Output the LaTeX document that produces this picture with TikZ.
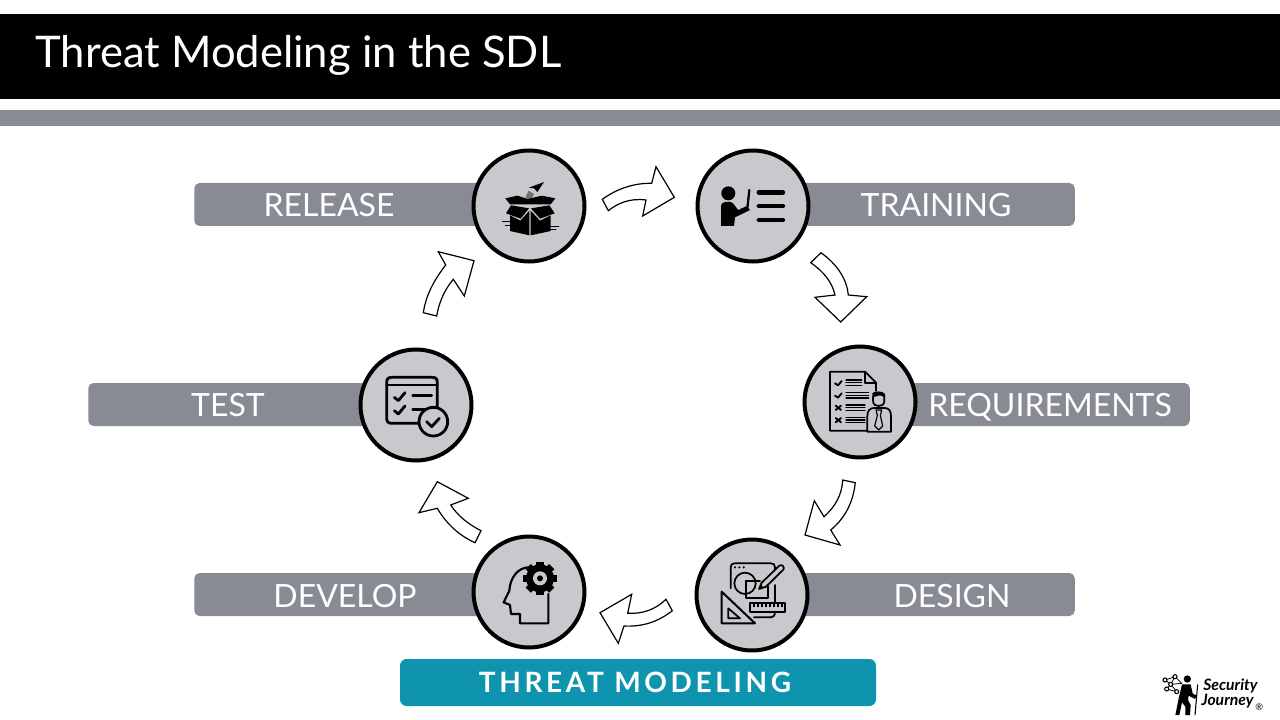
\documentclass[tikz,border=0pt]{standalone}
\usepackage{fontspec}
\setmainfont{Lato}
\newfontfamily\spacedfont[LetterSpace=13]{Lato}
\usepackage{xcolor}
\usetikzlibrary{positioning}
\definecolor{bargrey}{HTML}{888A94}
\definecolor{circlegrey}{HTML}{C8C9CC}
\definecolor{threatteal}{HTML}{0E94AE}
\tikzset{
  barbox/.style={fill=bargrey, rounded corners=4pt, minimum height=32.25pt, inner sep=0pt},
  barlabel/.style={text=white, font=\fontsize{24}{26}\selectfont, text height=17pt, text depth=0pt, inner sep=0pt},
  stepcircle/.style={draw=black, line width=3pt, fill=circlegrey, circle, minimum size=83.25pt, inner sep=0pt},
  blockarrow/.style={draw=black, line width=0.9pt, line join=miter, fill=white},
  iconline/.style={draw=black, line width=1.3pt, line cap=round, line join=round},
  iconthick/.style={draw=black, line width=2.1pt, line cap=round, line join=round}
}

\begin{document}
\begin{tikzpicture}[x=0.75pt, y=-0.75pt]
  \useasboundingbox (0,0) rectangle (1280,720);

  % Header
  \fill[black] (0,14) rectangle (1280,99);
  \fill[bargrey] (0,110) rectangle (1280,126);
  \node[anchor=west, text=white, inner sep=0pt, font=\fontsize{32.7}{36}\selectfont] (title) at (35,55) {Threat Modeling in the SDL};

  % Bars behind the circles
  \node[barbox, anchor=west, minimum width=251pt] (releasebar) at (194,204.5) {};
  \node[barbox, anchor=east, minimum width=241.5pt] (trainingbar) at (1075,204.5) {};
  \node[barbox, anchor=west, minimum width=246pt] (testbar) at (88,404.5) {};
  \node[barbox, anchor=east, minimum width=247.5pt] (requirementsbar) at (1190,404.5) {};
  \node[barbox, anchor=west, minimum width=251pt] (developbar) at (194,594.5) {};
  \node[barbox, anchor=east, minimum width=242pt] (designbar) at (1075,594.5) {};

  % Bar labels
  \node[barlabel] (releaselabel) at (329,205) {RELEASE};
  \node[barlabel] (traininglabel) at (936,205) {TRAINING};
  \node[barlabel] (testlabel) at (228,405) {TEST};
  \node[barlabel] (requirementslabel) at (1050,405) {REQUIREMENTS};
  \node[barlabel] (developlabel) at (345,596) {DEVELOP};
  \node[barlabel] (designlabel) at (952,596) {DESIGN};

  % Circles
  \node[stepcircle] (release) at (529,206) {};
  \node[stepcircle] (training) at (753,206) {};
  \node[stepcircle] (requirements) at (860,402) {};
  \node[stepcircle] (design) at (752,595) {};
  \node[stepcircle] (develop) at (529,592) {};
  \node[stepcircle] (test) at (416,405) {};

  % Threat modeling box
  \node[fill=threatteal, rounded corners=5pt, minimum width=357pt, minimum height=35.25pt, inner sep=0pt, text=white, font=\spacedfont\bfseries\fontsize{21}{24}\selectfont] (threat) at (638,682.5) {\hspace*{-4.5pt}THREAT MODELING};

  % Curved block arrows
  \draw[blockarrow] (602.3,199.3) .. controls (618,188) and (635,183) .. (651.7,183.3) -- (656,166.7) -- (674.3,197.3) -- (642.7,216) -- (646,200) .. controls (630,198) and (618,203) .. (608.3,210.7) -- cycle;
  \draw[blockarrow] (821,252.7) .. controls (838,265) and (847,280) .. (848.3,295) -- (866.7,296.7) -- (840.7,322) -- (815,297.3) -- (835,295) .. controls (832,282) and (824,272) .. (810.7,262.7) -- cycle;
  \draw[blockarrow] (855.3,482.7) .. controls (853,503) and (845,518) .. (830.7,530) -- (840,545) -- (805,535) -- (814.3,500.7) -- (824,516.7) .. controls (835,507) and (842,495) .. (842.7,480) -- cycle;
  \draw[blockarrow] (672.3,610.7) .. controls (658,622) and (642,627) .. (624,626) -- (618.3,643.3) -- (600,612.7) -- (631.7,594.3) -- (627.7,613.3) .. controls (642,614) and (655,610) .. (666,599.3) -- cycle;
  \draw[blockarrow] (475,542.7) .. controls (458,535) and (446,523) .. (437.3,508.3) -- (419,512.7) -- (437.3,481.7) -- (468.3,498.3) -- (450.7,505) .. controls (458,516) and (468,524) .. (481,530.7) -- cycle;
  \draw[blockarrow] (423.3,312.7) .. controls (426,295) and (434,280) .. (445.7,265) -- (438.3,251.7) -- (474,260.7) -- (464.3,296) -- (453.3,279.3) .. controls (445,289) and (439,302) .. (436.7,316) -- cycle;

  % Release icon
  \begin{scope}[shift={(460,140)}, x=0.25pt, y=-0.25pt]
    \fill[black] (252,126) -- (232,156) -- (222,145) -- (207,143) -- cycle;
    \fill[black!55] (206,152) -- (222,162) -- (211,182) -- (196,172) -- cycle;
    \fill[black] (136,175) -- (172,167) -- (203,177) -- (245,167) -- (286,175) -- (272,193) -- (150,193) -- cycle;
    \fill[black] (138,220) -- (153,196) -- (207,205) -- (182,236) -- cycle;
    \fill[black] (284,220) -- (268,196) -- (213,205) -- (240,236) -- cycle;
    \fill[black] (150,226) -- (181,242) -- (208,212) -- (208,286) -- (150,273) -- cycle;
    \fill[black] (212,212) -- (240,242) -- (272,226) -- (272,273) -- (212,286) -- cycle;
    \draw[iconline, line width=0.7pt] (128,243) -- (150,243) (136,256) -- (150,256) (272,258) -- (297,258) (272,268) -- (288,268);
  \end{scope}

  % Training icon
  \begin{scope}[shift={(460,140)}, x=0.25pt, y=-0.25pt]
    \fill[black] (805,160) circle (21);
    \fill[black] (783,200) .. controls (783,190) and (790,186) .. (800,186) -- (812,186) .. controls (822,188) and (828,205) .. (835,210) -- (860,198) -- (870,210) -- (825,232) -- (822,258) -- (783,258) -- cycle;
    \draw[black, line width=1.7pt, line cap=round] (868,150) -- (862,205);
    \foreach \liney in {157,198,240}
      \draw[black, line width=3.7pt, line cap=round] (897,\liney) -- (968,\liney);
  \end{scope}

  % Requirements icon
  \begin{scope}[shift={(790,240)}, x=0.25pt, y=-0.25pt]
    \draw[iconline] (232,572) -- (120,572) -- (120,395) -- (225,395) -- (258,428) -- (258,452);
    \draw[iconline] (225,395) -- (225,428) -- (258,428);
    \draw[iconline, line width=1.4pt] (135,430) -- (144,436) -- (155,423);
    \draw[iconline, line width=1.4pt] (135,467) -- (144,473) -- (155,460);
    \draw[iconline, line width=1.4pt] (137,497) -- (153,510) (153,497) -- (137,510);
    \draw[iconline, line width=1.4pt] (137,534) -- (153,547) (153,534) -- (137,547);
    \foreach \liney in {420,428,436} \draw[iconline, line width=0.9pt] (168,\liney) -- (215,\liney);
    \foreach \liney in {458,466,474} \draw[iconline, line width=0.9pt] (168,\liney) -- (236,\liney);
    \foreach \liney in {495,503,511} \draw[iconline, line width=0.9pt] (168,\liney) -- (225,\liney);
    \foreach \liney in {532,540,548} \draw[iconline, line width=0.9pt] (168,\liney) -- (225,\liney);
    \draw[iconline] (232,575) -- (232,528) .. controls (232,512) and (240,504) .. (252,504) -- (284,504) .. controls (296,504) and (303,512) .. (303,528) -- (303,575) -- cycle;
    \draw[iconline] (249,470) -- (249,482) .. controls (249,495) and (258,498) .. (266,498) .. controls (274,498) and (283,495) .. (283,482) -- (283,470);
    \fill[black] (247,472) -- (247,460) .. controls (250,452) and (280,452) .. (285,462) -- (285,472) -- (270,466) -- cycle;
    \draw[iconline, line width=0.9pt] (258,510) -- (275,510) -- (271,526) -- (278,558) -- (266,570) -- (254,558) -- (262,526) -- cycle;
  \end{scope}

  % Design icon
  \begin{scope}[shift={(460,470)}, x=0.25pt, y=-0.25pt]
    \draw[iconline] (812,355) -- (812,292) .. controls (812,284) and (816,280) .. (824,280) -- (933,280) .. controls (941,280) and (945,284) .. (945,292) -- (945,305);
    \draw[iconline] (945,345) -- (945,398) (945,426) .. controls (945,436) and (940,442) .. (930,442) -- (882,442);
    \fill[black] (825,292) circle (3.5) (838,292) circle (3.5) (851,292) circle (3.5);
    \draw[iconline] (855,340) circle (32);
    \draw[iconline] (857,332) -- (857,385) -- (925,385) -- (925,348);
    \draw[iconline] (857,332) -- (900,332);
    \draw[iconline, fill=circlegrey] (897,357) -- (905,338) -- (958,287) .. controls (965,281) and (976,292) .. (970,299) -- (918,350) -- cycle;
    \fill[black] (897,357) -- (902,344) -- (911,352) -- cycle;
    \draw[iconline, fill=circlegrey] (870,400) rectangle (975,425);
    \foreach \tickx in {882,894,906,918,930,942,954,966}
      \draw[black, line width=0.8pt] (\tickx,400) -- (\tickx,411);
    \draw[iconline, fill=circlegrey, line width=1.5pt] (785,365) -- (885,460) -- (785,460) -- cycle;
    \draw[iconline] (805,415) -- (840,445) -- (805,445) -- cycle;
  \end{scope}

  % Develop icon
  \begin{scope}[shift={(460,470)}, x=0.25pt, y=-0.25pt]
    \draw[iconline, line width=1.6pt] (265,372) -- (265,460) -- (180,460) -- (180,432) -- (153,432) -- (150,405) -- (131,397) -- (148,362) .. controls (150,322) and (175,293) .. (205,292);
    \fill[black] (240,325) circle (42);
    \foreach \toothangle in {0,45,...,315}
      \fill[black, rotate around={\toothangle:(240,325)}] (229,275) rectangle (251,295);
    \fill[circlegrey] (240,325) circle (21);
    \fill[black] (240,325) circle (9);
  \end{scope}

  % Test icon
  \begin{scope}[shift={(350,240)}, x=0.25pt, y=-0.25pt]
    \draw[iconthick] (205,550) -- (125,550) .. controls (115,550) and (110,545) .. (110,535) -- (110,427) .. controls (110,417) and (115,412) .. (125,412) -- (247,412) .. controls (257,412) and (262,417) .. (262,427) -- (262,500);
    \draw[iconthick] (110,435) -- (262,435);
    \draw[iconthick] (133,472) -- (145,482) -- (165,458);
    \draw[iconthick] (133,512) -- (145,522) -- (165,498);
    \draw[iconthick] (188,467) -- (245,467);
    \draw[iconthick] (188,508) -- (225,508);
    \draw[iconthick, fill=circlegrey] (250,545) circle (43);
    \draw[iconthick] (230,545) -- (245,560) -- (268,535);
  \end{scope}

  % Logo
  \node[anchor=west, inner sep=0pt, font=\bfseries\itshape\fontsize{11.8}{13}\selectfont] (logotop) at (1203,685.5) {Security};
  \node[anchor=west, inner sep=0pt, font=\bfseries\itshape\fontsize{11.8}{13}\selectfont] (logobottom) at (1201,701.5) {Journey};
  \node[anchor=west, inner sep=0pt, font=\fontsize{7}{8}\selectfont] (logomark) at (1255,707) {®};
  \begin{scope}[shift={(1150,665)}, x=0.25pt, y=-0.25pt]
    \draw[black, line width=0.6pt] (45,45) -- (75,35) -- (95,55) -- (62,58) -- (45,45) (62,58) -- (50,72) -- (80,80) -- (62,58) (75,35) -- (62,58);
    \foreach \netx/\nety in {45/45,75/35,50/72,80/80,62/58}
      \draw[black, line width=0.8pt, fill=white] (\netx,\nety) circle (6);
    \fill[black] (112,42) circle (11);
    \fill[black] (96,58) -- (122,58) -- (128,85) -- (140,92) -- (135,102) -- (116,92) -- (114,105) -- (122,120) -- (120,150) -- (106,150) -- (106,125) -- (96,112) -- (88,150) -- (76,150) -- (86,100) -- cycle;
    \draw[black, line width=0.8pt] (143,58) -- (135,150);
  \end{scope}
\end{tikzpicture}
\end{document}
